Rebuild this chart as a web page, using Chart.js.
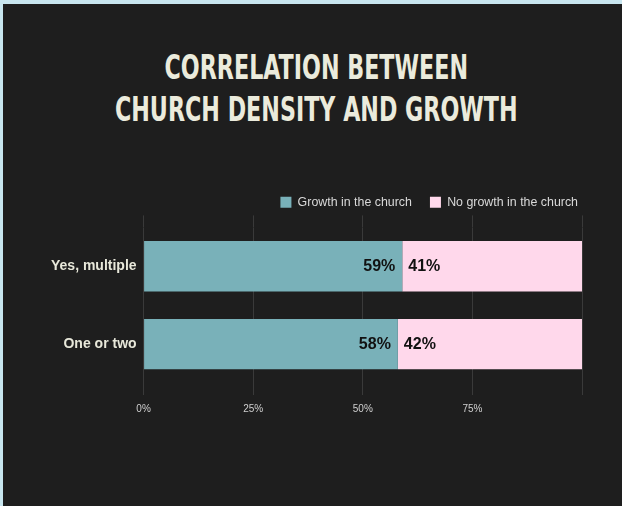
<!DOCTYPE html>
<html>
<head>
<meta charset="utf-8">
<script src="https://cdn.jsdelivr.net/npm/chart.js@4"></script>
<style>
  html, body { margin: 0; padding: 0; }
  body { background: #c8e6ef; width: 622px; height: 506px; overflow: hidden; }
  .card {
    position: absolute; left: 3px; top: 4px;
    width: 619px; height: 502px;
    background: #1e1e1e;
  }
  .card h1 {
    position: absolute; left: 0; top: 43px; width: 100%;
    margin: 0; padding-left: 8px; box-sizing: border-box;
    text-align: center;
    font-family: "Liberation Sans Narrow", "DejaVu Sans Condensed", sans-serif;
    font-weight: bold; font-size: 26px; line-height: 32.8px;
    color: #ebebdc;
    transform: scale(0.95, 1.28); transform-origin: top center;
  }
  .card canvas { position: absolute; left: 0; top: 0; }
</style>
</head>
<body>
<div class="card">
  <h1>CORRELATION BETWEEN<br>CHURCH DENSITY AND GROWTH</h1>
  <canvas id="myChart" width="619" height="502"></canvas>
</div>
<script>
const categories = ['Yes, multiple', 'One or two'];
const growth = [59, 58];
const noGrowth = [41, 42];
const xTicks = [0, 25, 50, 75, 100];

const gridColor = '#3a3a3a';
const sans = '"Liberation Sans", Arial, sans-serif';

// percentage labels at the join of the two stacked bars
const barLabels = {
  id: 'barLabels',
  afterDatasetsDraw(chart) {
    const c = chart.ctx;
    c.save();
    c.font = 'bold 16px ' + sans;
    c.fillStyle = '#111111';
    c.textBaseline = 'middle';
    chart.data.datasets.forEach((ds, i) => {
      chart.getDatasetMeta(i).data.forEach((bar, j) => {
        const txt = ds.data[j] + '%';
        if (i === 0) {
          c.textAlign = 'right';
          c.fillText(txt, bar.x - 7, bar.y);
        } else {
          c.textAlign = 'left';
          c.fillText(txt, bar.base + 6, bar.y);
        }
      });
    });
    c.restore();
  }
};

const ctx = document.getElementById('myChart');
new Chart(ctx, {
  type: 'bar',
  data: {
    labels: categories,
    datasets: [{
      label: 'Growth in the church',
      data: growth,
      backgroundColor: '#79b1b9',
      borderWidth: 0,
      barPercentage: 0.81
    }, {
      label: 'No growth in the church',
      data: noGrowth,
      backgroundColor: '#ffd8eb',
      borderWidth: 0,
      barPercentage: 0.81
    }]
  },
  options: {
    indexAxis: 'y',
    responsive: false,
    animation: false,
    layout: {
      padding: { top: 174, left: 41, right: 26, bottom: 83 }
    },
    plugins: {
      legend: {
        position: 'top',
        align: 'end',
        labels: {
          boxWidth: 11,
          boxHeight: 11,
          padding: 18,
          color: '#d9d9d9',
          font: { family: sans, size: 12.4 }
        }
      },
      tooltip: { enabled: false }
    },
    scales: {
      x: {
        stacked: true,
        min: 0,
        max: 100,
        afterBuildTicks: (axis) => { axis.ticks = xTicks.map(v => ({ value: v })); },
        grid: { color: gridColor, tickLength: 12 },
        border: { display: false },
        ticks: {
          padding: 8,
          color: '#cfcfcf',
          font: { family: sans, size: 10 },
          callback: (v) => v === 100 ? '' : v + '%'
        }
      },
      // tick marks only, poking up above the plot
      xTop: {
        type: 'linear',
        position: 'top',
        min: 0,
        max: 100,
        afterBuildTicks: (axis) => { axis.ticks = xTicks.map(v => ({ value: v })); },
        afterFit: (axis) => { axis.height = 9; },
        grid: { color: gridColor, tickLength: 12, drawOnChartArea: false },
        border: { display: false },
        ticks: { display: false }
      },
      y: {
        stacked: true,
        grid: { display: false, drawTicks: false },
        border: { display: false },
        ticks: {
          padding: 7,
          color: '#e8e8da',
          font: { family: sans, size: 14, weight: 'bold' }
        }
      },
      // empty strip on the right so the legend runs past the plot edge
      yGap: {
        type: 'linear',
        position: 'right',
        grid: { display: false, drawTicks: false },
        border: { display: false },
        ticks: { display: false },
        afterFit: (axis) => { axis.width = 14; }
      }
    }
  },
  plugins: [barLabels]
});
</script>
</body>
</html>
